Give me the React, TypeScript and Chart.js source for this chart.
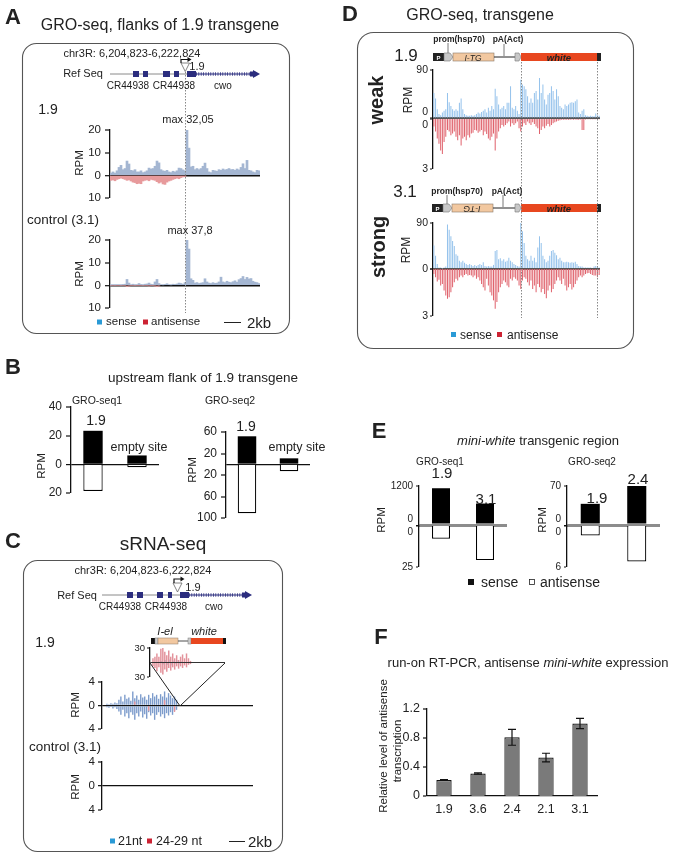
import React, { useEffect, useRef } from 'react';
import { Chart, registerables } from 'chart.js';
Chart.register(...registerables);

const FONT = '"Liberation Sans", Arial, Helvetica, sans-serif';
Chart.defaults.font.family = FONT;
Chart.defaults.color = '#222';

// ---------------- DATA ----------------
// A: GRO-seq flanks (bins across the locus), RPM
const aSense19 = [1, 1.5, 1, 2, 3.5, 4.4, 2.5, 3, 6.3, 5, 2.2, 2, 2.5, 1.5, 1.5, 2, 1.2, 1.5, 2, 3.2, 2.8, 3, 4, 6.3, 5.5, 2.5, 2, 1.8, 2.2, 1.5, 1.2, 1.8, 1.5, 2, 3.2, 3, 2.4, 2, 32.05, 12, 3.7, 4, 2.5, 3, 2.5, 3, 4, 5.4, 3, 1.5, 1.2, 2.2, 2, 1.8, 2.5, 2.2, 2.8, 2.4, 2.6, 3, 2.5, 2.6, 2.2, 2.8, 2.4, 3.5, 5.1, 3, 6.6, 2.2, 2, 1.5, 1.2, 2.2, 2];
const aAnti19 = [-2.2, -2, -2.4, -1.8, -1.5, -1.2, -1.5, -1.8, -2.2, -2, -2.5, -3, -3.2, -3.7, -3.5, -3.7, -2.5, -2.2, -2, -2.4, -1.8, -2, -2.2, -2.8, -3.4, -3, -3.8, -4, -3, -2.5, -2.2, -1.8, -1.5, -1.2, -1.5, -1, -0.7, -0.5];
const aSenseCtrl = [0.2, 0.3, 0.2, 0.3, 0.3, 0.2, 0.4, 0.5, 2.6, 1, 0.3, 0.5, 0.2, 0.3, 0.8, 0.4, 0.2, 0.5, 0.6, 1, 0.5, 0.4, 1.5, 2.6, 0.8, 0.3, 0.2, 0.4, 0.7, 0.3, 0.2, 0.5, 0.4, 0.6, 1, 0.8, 0.5, 1.2, 37.8, 16, 2.9, 2.2, 1, 1.2, 0.8, 1, 1.2, 2.9, 1.5, 1, 0.8, 1.2, 0.9, 1, 1.5, 3.6, 1.5, 1.2, 1.8, 1.4, 1.2, 1.6, 2, 1.4, 2.5, 3, 3.9, 2.6, 3.5, 2.8, 3, 1.8, 1.4, 1.2, 0.8];
const aAntiCtrl = [0, 0, 0, 0, 0, 0, 0, 0, -0.5, -0.2, 0, 0, 0, 0, 0, 0, 0, 0, 0, -0.2, 0, 0, -0.2, -0.5, -0.2];

// B: upstream flank of 1.9 transgene
const bCats = ['1.9', 'empty site'];
const bSeq1Sense = [23.4, 6.2];
const bSeq1Anti = [-18.6, -2];
const bSeq2Sense = [52, 11];
const bSeq2Anti = [-91, -13];

// C: sRNA-seq (bins of the locus; main track 76 bins, inset 38 bins)
const cMainBins = 76;
const cMainStart = 2;
const cMain21Up = [0.3, 0.2, 0.4, 0.3, 0.5, 0.4, 0.97, 1.53, 0.68, 1.82, 1.14, 1.36, 0.8, 2.39, 1.25, 1.7, 0.97, 1.93, 1.36, 1.53, 0.97, 1.82, 1.25, 2.1, 1.53, 1.82, 1.14, 1.93, 1.53, 2.39, 1.36, 2.1, 1.7, 1.25, 1.53, 0.97];
const cMain21Down = [-0.3, -0.4, -0.2, -0.5, -0.3, -0.6, -1.02, -1.59, -0.74, -1.88, -1.31, -2.16, -1.14, -1.59, -2.44, -1.31, -1.88, -1.02, -2.05, -1.48, -2.27, -1.14, -1.7, -1.31, -2.44, -1.59, -1.14, -1.88, -1.48, -2.16, -1.31, -1.7, -1.14, -1.59, -0.91, -0.74];
const cMain2429Bins = [16, 23, 31, 36];
const cMain2429Vals = [0.7, -0.9, 0.9, -1.1];
const cInsetBins = 38;
const cInsetStart = 1;
const cInset2429Up = [8.7, 12, 18.7, 12, 28.7, 32, 22, 15, 25, 12, 18.7, 8.7, 15, 5.3, 12, 16.7, 8.7, 18.7, 8.7, 3.3];
const cInset2429Down = [-8, -11.3, -18, -10, -21.3, -24.7, -14.7, -19.3, -11.3, -16.7, -10, -14.7, -8, -12.7, -8, -11.3, -6, -10, -4.7, -3.3];
const cInsetBlueStart = 5;
const cInset21Up = [3, 0, 5, 0, 6, 0, 4, 0, 5, 0, 3];
const cInset21Down = [0, -4, 0, -5, 0, -6, 0, -3, 0, -4, 0];
const cControl21: number[] = [];

// D: GRO-seq transgene
const dWeakSense = [47, 37, 17, 8, 6, 11, 14, 17, 47, 30, 23, 17, 14, 17, 14, 29, 37, 17, 8, 6, 5, 5, 6, 5, 6, 8, 11, 9, 12, 14, 17, 11, 20, 14, 23, 17, 55, 41, 26, 17, 20, 23, 17, 29, 29, 60, 20, 17, 23, 14, 8, 72, 63, 60, 54, 41, 29, 37, 29, 47, 51, 35, 75, 47, 63, 35, 26, 44, 47, 60, 51, 35, 54, 41, 23, 20, 17, 26, 23, 26, 29, 30, 29, 32, 35, 11, 8, 14, 17, 6, 5, 4, 5, 4, 4, 9, 6, 5];
const dWeakAnti = [0.45, 0.75, 1.16, 1.47, 1.88, 2.08, 1.37, 1.06, 0.65, 0.75, 0.96, 0.86, 0.75, 1.06, 1.27, 0.96, 1.57, 1.16, 1.06, 1.27, 0.96, 1.1, 0.86, 0.82, 0.65, 0.69, 0.82, 0.75, 0.65, 0.96, 0.75, 0.9, 1.16, 1.27, 1.06, 0.86, 1.88, 1.16, 0.75, 0.55, 0.35, 0.45, 0.35, 0.25, 0.15, 0.45, 0.25, 0.35, 0.25, 0.15, 0.55, 0.75, 0.45, 0.25, 0.35, 0.15, 0.25, 0.35, 0.2, 0.3, 0.45, 0.55, 0.9, 0.65, 0.45, 0.55, 0.4, 0.3, 0.45, 0.35, 0.25, 0.2, 0.15, 0.1, 0.08, 0.05, 0.05, 0.04, 0.05, 0.04, 0.04, 0.03, 0.04, 0.03, 0.05, 0.04, 0.03, 0.65, 0.65, 0.03, 0.02, 0.02, 0.02, 0.02, 0.02, 0.02, 0.02, 0.02];
const dStrongSense = [46, 26, 10, 3, 3, 1, 3, 5, 87, 77, 64, 55, 45, 29, 26, 16, 13, 16, 12, 10, 8, 10, 8, 6, 8, 6, 8, 10, 8, 13, 6, 5, 6, 5, 5, 8, 35, 37, 19, 21, 16, 19, 14, 16, 22, 16, 13, 10, 8, 6, 5, 96, 74, 51, 26, 19, 16, 26, 16, 22, 13, 42, 64, 51, 26, 19, 13, 16, 26, 35, 37, 32, 27, 19, 22, 16, 13, 13, 14, 13, 12, 13, 12, 14, 10, 6, 5, 5, 3, 3, 3, 3, 3, 2, 5, 6, 5, 3];
const dStrongAnti = [0.32, 0.53, 0.8, 0.68, 1.06, 0.95, 1.37, 1.69, 1.9, 1.8, 1.48, 1.16, 0.85, 0.63, 0.74, 0.53, 0.42, 0.53, 0.38, 0.32, 0.42, 0.38, 0.42, 0.53, 0.42, 0.63, 0.53, 0.74, 0.95, 1.16, 1.37, 0.63, 1.06, 1.48, 1.69, 2.0, 2.54, 2.11, 1.48, 1.16, 0.95, 0.74, 0.85, 1.06, 1.16, 0.63, 0.74, 0.53, 0.63, 0.74, 1.06, 1.27, 0.74, 0.53, 0.63, 0.85, 1.06, 0.74, 1.27, 1.06, 1.48, 0.95, 1.16, 1.48, 1.27, 1.59, 1.86, 1.37, 1.06, 1.48, 1.27, 0.95, 0.74, 0.53, 0.74, 0.95, 0.63, 1.06, 1.37, 1.16, 0.95, 1.31, 1.16, 0.95, 0.74, 0.53, 0.42, 0.53, 0.42, 0.32, 0.27, 0.25, 0.32, 0.38, 0.42, 0.42, 0.53, 0.38];

// E: mini-white transgenic region
const eSeq1Cats = ['1.9', '3.1'];
const eSeq1Sense = [1131, 660];
const eSeq1Anti = [7.7, 20.8];
const eSeq2Cats = ['1.9', '2.4'];
const eSeq2Sense = [38, 70];
const eSeq2Anti = [1.4, 5.2];

// F: run-on RT-PCR
const fLabels = ['1.9', '3.6', '2.4', '2.1', '3.1'];
const fValues = [0.22, 0.31, 0.81, 0.53, 1.0];
const fErrors = [0.005, 0.01, 0.11, 0.06, 0.07];

// ---------------- COLORS ----------------
const A_BLUE = '#a4b6d2';
const A_RED = '#e79a9c';
const C_BLUE = '#7d9ccc';
const C_RED = '#e3929b';
const D_BLUE = '#96c3ec';
const D_RED = '#e0636d';
const NAVY = '#2b2d7e';

// ---------------- HELPERS ----------------
type Area = [number, number, number, number];
interface YSpec {
  min: number; max: number; ticks: number[]; reverse?: boolean;
  label?: (v: number) => string | string[];
  zero?: [string, number]; noTick?: number[]; size?: number; tl?: number; pad?: number;
}

function yScale(s: YSpec, yw: number): any {
  return {
    type: 'linear',
    min: s.min, max: s.max, reverse: !!s.reverse,
    afterFit: (sc: any) => { sc.width = yw; },
    afterBuildTicks: (sc: any) => { sc.ticks = s.ticks.map((v) => ({ value: v })); },
    ticks: {
      autoSkip: false, padding: s.pad ?? 3, color: '#222',
      font: { size: s.size ?? 11 },
      callback: (v: number) => (s.label ? s.label(v) : String(Math.abs(v))),
    },
    grid: {
      display: true, drawOnChartArea: true, drawTicks: true, tickLength: s.tl ?? 4,
      color: (c: any) => (s.zero && c.tick && c.tick.value === 0 ? s.zero[0] : 'rgba(0,0,0,0)'),
      lineWidth: (c: any) => (s.zero && c.tick && c.tick.value === 0 ? s.zero[1] : 0),
      tickColor: (c: any) => (c.tick && s.noTick && s.noTick.includes(c.tick.value) ? 'rgba(0,0,0,0)' : '#111'),
      tickWidth: 1.2,
    },
    border: { display: true, color: '#111', width: 1.3 },
  };
}

const hiddenCat: any = { type: 'category', display: false, offset: true };

const bars = (data: any[], color: string, pct = 1, extra: any = {}) => ({
  data, backgroundColor: color, borderWidth: 0, barPercentage: pct, categoryPercentage: 1, grouped: false, ...extra,
});
// place a run of values on a bin axis (empty bins stay null)
const placeRun = (n: number, start: number, vals: number[]) =>
  Array.from({ length: n }, (_, i) => (i >= start && i < start + vals.length ? vals[i - start] : null));
const placeAt = (n: number, bins: number[], vals: number[]) =>
  Array.from({ length: n }, (_, i) => { const k = bins.indexOf(i); return k >= 0 ? vals[k] : null; });
const binLabels = (n: number) => Array.from({ length: n }, (_, i) => String(i));

const errorBarPlugin = {
  id: 'errorBars',
  afterDatasetsDraw(chart: any, _args: any, opts: any) {
    const errs: number[] = opts && opts.errors;
    if (!errs) return;
    const meta = chart.getDatasetMeta(0);
    const ys = chart.scales.y;
    const vals = chart.data.datasets[0].data as number[];
    const ctx = chart.ctx;
    ctx.save();
    ctx.strokeStyle = '#111';
    ctx.lineWidth = 1.2;
    meta.data.forEach((bar: any, i: number) => {
      const top = ys.getPixelForValue(vals[i] + errs[i]);
      const bot = ys.getPixelForValue(vals[i] - errs[i]);
      const x = bar.x, cap = 4;
      ctx.beginPath();
      ctx.moveTo(x, top); ctx.lineTo(x, bot);
      ctx.moveTo(x - cap, top); ctx.lineTo(x + cap, top);
      ctx.moveTo(x - cap, bot); ctx.lineTo(x + cap, bot);
      ctx.stroke();
    });
    ctx.restore();
  },
};

const PAD = 14;
function ChartBox({ area, yw, xh = 0, build }: { area: Area; yw: number; xh?: number; build: () => any }) {
  const ref = useRef<HTMLCanvasElement>(null);
  const padT = PAD, padB = xh ? 2 : PAD, padR = 2;
  const w = area[1] - area[0] + yw + padR;
  const h = area[3] - area[2] + padT + padB + xh;
  useEffect(() => {
    const cfg = build();
    cfg.options = {
      ...(cfg.options || {}),
      animation: false, responsive: false, events: [],
      layout: { padding: { left: 0, right: padR, top: padT, bottom: padB } },
    };
    cfg.options.plugins = { legend: { display: false }, tooltip: { enabled: false }, ...(cfg.options.plugins || {}) };
    const c = new Chart(ref.current as HTMLCanvasElement, cfg);
    return () => c.destroy();
  }, []);
  return (
    <canvas ref={ref} width={w} height={h}
      style={{ position: 'absolute', left: area[0] - yw, top: area[2] - padT, width: w, height: h }} />
  );
}

function Tx({ x, y, s = 11, b = false, i = false, rot = 0, a = 'c', c = '#222', children }: any) {
  const tx = a === 'c' ? '-50%' : a === 'r' ? '-100%' : '0';
  return (
    <div style={{
      position: 'absolute', left: x, top: y,
      transform: `translate(${tx},-50%)${rot ? ` rotate(${rot}deg)` : ''}`,
      fontSize: s, fontWeight: b ? 700 : 400, fontStyle: i ? 'italic' : 'normal',
      color: c, whiteSpace: 'nowrap', lineHeight: 1,
    }}>{children}</div>
  );
}

function Gene({ y, x0, exons, dot, arrow }: { y: number; x0: number; exons: number[][]; dot: number[]; arrow: number }) {
  return (
    <g>
      <line x1={x0} y1={y} x2={dot[0]} y2={y} stroke="#8a8a8a" strokeWidth={1} />
      {exons.map(([a, b], k) => <rect key={k} x={a} y={y - 3} width={b - a} height={6} fill={NAVY} />)}
      <line x1={dot[0]} y1={y} x2={dot[1]} y2={y} stroke={NAVY} strokeWidth={1} />
      <line x1={dot[0]} y1={y} x2={dot[1]} y2={y} stroke={NAVY} strokeWidth={3.5} strokeDasharray="0.8 1.6" />
      <rect x={arrow - 3} y={y - 2.5} width={4} height={5} fill={NAVY} />
      <polygon points={`${arrow},${y - 4} ${arrow + 7},${y} ${arrow},${y + 4}`} fill={NAVY} />
    </g>
  );
}

function Construct({ y, x0 }: { y: number; x0: number }) {
  const h = 8;
  return (
    <g>
      <rect x={x0} y={y} width={11} height={h} fill="#222" />
      <polygon points={`${x0 + 11},${y} ${x0 + 17},${y} ${x0 + 20},${y + 4} ${x0 + 17},${y + h} ${x0 + 11},${y + h}`} fill="#c8c8c8" stroke="#777" strokeWidth={0.6} />
      <rect x={x0 + 20} y={y} width={41} height={h} fill="#f2c8a0" stroke="#8a7a6a" strokeWidth={0.6} />
      <line x1={x0 + 61} y1={y + 4} x2={515} y2={y + 4} stroke="#222" strokeWidth={1} />
      <polygon points={`515,${y} 519,${y} 521,${y + 4} 519,${y + h} 515,${y + h}`} fill="#c8c8c8" stroke="#777" strokeWidth={0.6} />
      <rect x={521} y={y} width={76} height={h} fill="#e8471f" />
      <rect x={597} y={y} width={4} height={h} fill="#222" />
    </g>
  );
}

// ---------------- CHART BUILDERS ----------------
const trackA = (sense: number[], anti: number[]) => () => ({
  type: 'bar',
  data: { labels: sense.map((_, i) => i), datasets: [bars(sense, A_BLUE), bars(anti, A_RED)] },
  options: {
    scales: {
      x: hiddenCat,
      y: yScale({ min: -10, max: 20, ticks: [-10, 0, 10, 20], zero: ['#111', 1.4], size: 11.5, tl: 5, pad: 4 }, 32),
    },
  },
});

const trackD = (data: number[], color: string, max: number, reverse: boolean, zeroLabel: string | string[], zero?: [string, number]) => () => ({
  type: 'bar',
  data: { labels: data.map((_, i) => i), datasets: [bars(data, color, 0.6)] },
  options: {
    scales: {
      x: hiddenCat,
      y: yScale({
        min: 0, max, ticks: [0, max], reverse, zero, size: 10.5, tl: 3, pad: 2,
        label: (v) => (v === 0 ? zeroLabel : String(v)),
      }, 28),
    },
  },
});

const groB = (sense: number[], anti: number[], spec: YSpec) => () => ({
  type: 'bar',
  data: {
    labels: bCats,
    datasets: [bars(sense, '#000', 0.44), bars(anti, '#fff', 0.44, { borderColor: '#000', borderWidth: 1.2 })],
  },
  options: { scales: { x: hiddenCat, y: yScale(spec, 34) } },
});

const groE = (cats: string[], data: number[], max: number, anti: boolean) => () => ({
  type: 'bar',
  data: {
    labels: cats,
    datasets: [anti
      ? bars(data, '#fff', 0.41, { borderColor: '#000', borderWidth: 1.2 })
      : bars(data, '#000', 0.41)],
  },
  options: {
    scales: {
      x: hiddenCat,
      y: yScale({
        min: 0, max, ticks: [0, max], reverse: anti, size: 10, tl: 3, pad: 3,
        zero: anti ? undefined : ['#8c8c8c', 3],
        label: (v) => (v === 0 ? (anti ? ['', '0'] : ['0', '']) : String(v)),
      }, 34),
    },
  },
});

const cMainChart = () => ({
  type: 'bar',
  data: {
    labels: binLabels(cMainBins),
    datasets: [
      bars(placeAt(cMainBins, cMain2429Bins, cMain2429Vals), C_RED, 0.7),
      bars(placeRun(cMainBins, cMainStart, cMain21Up), C_BLUE, 0.7),
      bars(placeRun(cMainBins, cMainStart, cMain21Down), C_BLUE, 0.7),
    ],
  },
  options: {
    scales: {
      x: hiddenCat,
      y: yScale({ min: -4, max: 4, ticks: [-4, 0, 4], zero: ['#111', 1.3], size: 11.5, tl: 4, pad: 3 }, 30),
    },
  },
});

const cInsetChart = () => ({
  type: 'bar',
  data: {
    labels: binLabels(cInsetBins),
    datasets: [
      bars(placeRun(cInsetBins, cInsetStart, cInset2429Up), C_RED, 0.75),
      bars(placeRun(cInsetBins, cInsetStart, cInset2429Down), C_RED, 0.75),
      bars(placeRun(cInsetBins, cInsetBlueStart, cInset21Up), C_BLUE, 0.75),
      bars(placeRun(cInsetBins, cInsetBlueStart, cInset21Down), C_BLUE, 0.75),
    ],
  },
  options: {
    scales: {
      x: hiddenCat,
      y: yScale({
        min: -30, max: 30, ticks: [-30, 0, 30], zero: ['#333', 1], noTick: [0], size: 9.5, tl: 3, pad: 2,
        label: (v) => (v === 0 ? '' : String(Math.abs(v))),
      }, 24),
    },
  },
});

const cControlChart = () => ({
  type: 'bar',
  data: { labels: binLabels(cMainBins), datasets: [bars(cControl21, C_BLUE, 0.7)] },
  options: {
    scales: {
      x: hiddenCat,
      y: yScale({ min: -4, max: 4, ticks: [-4, 0, 4], zero: ['#111', 1.3], size: 11.5, tl: 4, pad: 3 }, 30),
    },
  },
});

const fChart = () => ({
  type: 'bar',
  data: {
    labels: fLabels,
    datasets: [{
      data: fValues, backgroundColor: '#7a7a7a', borderColor: '#111', borderWidth: 1.2,
      barPercentage: 0.45, categoryPercentage: 1,
    }],
  },
  options: {
    scales: {
      x: {
        type: 'category', offset: true,
        afterFit: (s: any) => { s.height = 22; },
        grid: { display: false, drawTicks: false },
        border: { display: true, color: '#111', width: 1.3 },
        ticks: { font: { size: 12.5 }, padding: 6, color: '#222' },
      },
      y: yScale({
        min: 0, max: 1.2, ticks: [0, 0.4, 0.8, 1.2], size: 12.5, tl: 4, pad: 3,
        label: (v) => (v === 0 ? '0' : v.toFixed(1)),
      }, 40),
    },
    plugins: { errorBars: { errors: fErrors } },
  },
  plugins: [errorBarPlugin],
});

// ---------------- APP ----------------
export default function App() {
  return (
    <div style={{ position: 'absolute', left: 0, top: 0, width: 681, height: 854, background: '#fff', fontFamily: FONT, overflow: 'hidden' }}>
      {/* charts */}
      <ChartBox area={[110, 260, 130, 198]} yw={32} build={trackA(aSense19, aAnti19)} />
      <ChartBox area={[110, 260, 240, 308]} yw={32} build={trackA(aSenseCtrl, aAntiCtrl)} />

      <ChartBox area={[71, 159, 407, 493]} yw={34} build={groB(bSeq1Sense, bSeq1Anti, { min: -20, max: 40, ticks: [-20, 0, 20, 40], zero: ['#111', 1.2], size: 12, tl: 5, pad: 4 })} />
      <ChartBox area={[226, 310, 432, 518]} yw={34} build={groB(bSeq2Sense, bSeq2Anti, { min: -100, max: 60, ticks: [-100, -60, -20, 0, 20, 60], zero: ['#111', 1.2], noTick: [0], size: 12, tl: 5, pad: 4, label: (v) => (v === 0 ? '' : String(Math.abs(v))) })} />

      <ChartBox area={[150, 225, 648, 677]} yw={24} build={cInsetChart} />
      <ChartBox area={[102, 253, 682, 729]} yw={30} build={cMainChart} />
      <ChartBox area={[102, 253, 762, 810]} yw={30} build={cControlChart} />

      <ChartBox area={[433, 600, 70, 119]} yw={28} build={trackD(dWeakSense, D_BLUE, 90, false, ['0', ''], ['#555', 2])} />
      <ChartBox area={[433, 600, 119, 170]} yw={28} build={trackD(dWeakAnti, D_RED, 3, true, ['', '0'])} />
      <ChartBox area={[433, 600, 223, 269]} yw={28} build={trackD(dStrongSense, D_BLUE, 90, false, '0', ['#555', 2])} />
      <ChartBox area={[433, 600, 269, 316]} yw={28} build={trackD(dStrongAnti, D_RED, 3, true, '')} />

      <ChartBox area={[419, 507, 486, 526]} yw={34} build={groE(eSeq1Cats, eSeq1Sense, 1200, false)} />
      <ChartBox area={[419, 507, 526, 568]} yw={34} build={groE(eSeq1Cats, eSeq1Anti, 25, true)} />
      <ChartBox area={[567, 660, 486, 526]} yw={34} build={groE(eSeq2Cats, eSeq2Sense, 70, false)} />
      <ChartBox area={[567, 660, 526, 568]} yw={34} build={groE(eSeq2Cats, eSeq2Anti, 6, true)} />

      <ChartBox area={[427, 597, 709, 796]} yw={40} xh={22} build={fChart} />

      {/* drawings */}
      <svg width={681} height={854} style={{ position: 'absolute', left: 0, top: 0 }}>
        {/* A */}
        <rect x={22.5} y={43.5} width={267} height={290} rx={14} fill="none" stroke="#555" strokeWidth={1.1} />
        <Gene y={74} x0={110} exons={[[133, 139], [143, 148], [163, 170], [174, 179], [187, 196]]} dot={[196, 252]} arrow={253} />
        <polygon points="181,63 189.5,63 185.25,71.5" fill="#fff" stroke="#666" strokeWidth={0.8} />
        <path d="M181 63 V59.5 H188" fill="none" stroke="#111" strokeWidth={1.2} />
        <polygon points="187.5,57 191.5,59.5 187.5,62" fill="#111" />
        <line x1={185.5} y1={72} x2={185.5} y2={313} stroke="#888" strokeWidth={1} strokeDasharray="1.5 1.5" />
        <rect x={97} y={319.5} width={5} height={5} fill="#2a9ad6" />
        <rect x={143} y={319.5} width={5} height={5} fill="#cc2233" />
        <line x1={224} y1={322.5} x2={241} y2={322.5} stroke="#222" strokeWidth={1} />

        {/* C */}
        <rect x={23.5} y={560.5} width={259} height={291} rx={14} fill="none" stroke="#555" strokeWidth={1.1} />
        <Gene y={595} x0={102} exons={[[127, 133], [137, 143], [157, 163], [168, 172], [180, 189]]} dot={[189, 244]} arrow={245} />
        <polygon points="173,583 182,583 177.5,592" fill="#fff" stroke="#666" strokeWidth={0.8} />
        <path d="M174 583 V579 H181" fill="none" stroke="#111" strokeWidth={1.2} />
        <polygon points="180.5,576.5 184.5,579 180.5,581.5" fill="#111" />
        <rect x={151} y={638} width={4} height={6} fill="#111" />
        <rect x={155} y={638} width={3} height={6} fill="#ccc" stroke="#777" strokeWidth={0.5} />
        <rect x={158} y={638} width={20} height={6} fill="#f2c8a0" stroke="#8a7a6a" strokeWidth={0.5} />
        <line x1={178} y1={641} x2={188} y2={641} stroke="#222" strokeWidth={0.8} />
        <rect x={188} y={638} width={3} height={6} fill="#ccc" stroke="#777" strokeWidth={0.5} />
        <rect x={191} y={638} width={32} height={6} fill="#e8471f" />
        <rect x={223} y={638} width={3} height={6} fill="#111" />
        <line x1={150} y1={663} x2={180} y2={706} stroke="#222" strokeWidth={1} />
        <line x1={225} y1={663} x2={180} y2={706} stroke="#222" strokeWidth={1} />
        <rect x={110} y={838.5} width={5} height={5} fill="#2a9ad6" />
        <rect x={147} y={838.5} width={5} height={5} fill="#cc2233" />
        <line x1={229} y1={841.5} x2={245} y2={841.5} stroke="#222" strokeWidth={1} />

        {/* D */}
        <rect x={357.5} y={32.5} width={276} height={316} rx={16} fill="none" stroke="#555" strokeWidth={1.1} />
        <Construct y={53} x0={433} />
        <Construct y={204} x0={432} />
        <line x1={448} y1={43} x2={448} y2={53} stroke="#555" strokeWidth={0.8} />
        <line x1={504} y1={44} x2={504} y2={56} stroke="#555" strokeWidth={0.8} />
        <line x1={447} y1={195} x2={447} y2={204} stroke="#555" strokeWidth={0.8} />
        <line x1={503} y1={195} x2={503} y2={207} stroke="#555" strokeWidth={0.8} />
        <line x1={521.5} y1={62} x2={521.5} y2={318} stroke="#888" strokeWidth={1} strokeDasharray="1.5 1.5" />
        <line x1={597.5} y1={62} x2={597.5} y2={318} stroke="#888" strokeWidth={1} strokeDasharray="1.5 1.5" />
        <rect x={451} y={332} width={5} height={5} fill="#2a9ad6" />
        <rect x={497} y={332} width={5} height={5} fill="#cc2233" />

        {/* E */}
        <rect x={468} y={579} width={6} height={6} fill="#111" />
        <rect x={529.5} y={579.5} width={5} height={5} fill="#fff" stroke="#222" strokeWidth={0.8} />
      </svg>

      {/* panel letters */}
      <Tx x={13} y={17} s={22} b>A</Tx>
      <Tx x={13} y={367} s={22} b>B</Tx>
      <Tx x={13} y={541} s={22} b>C</Tx>
      <Tx x={350} y={14} s={22} b>D</Tx>
      <Tx x={379} y={431} s={22} b>E</Tx>
      <Tx x={381} y={637} s={22} b>F</Tx>

      {/* A text */}
      <Tx x={160} y={25} s={16}>GRO-seq, flanks of 1.9 transgene</Tx>
      <Tx x={132} y={53} s={11}>chr3R: 6,204,823-6,222,824</Tx>
      <Tx x={83} y={73} s={11}>Ref Seq</Tx>
      <Tx x={197} y={66} s={11}>1.9</Tx>
      <Tx x={128} y={86} s={10}>CR44938</Tx>
      <Tx x={174} y={86} s={10}>CR44938</Tx>
      <Tx x={223} y={86} s={10}>cwo</Tx>
      <Tx x={48} y={109} s={14}>1.9</Tx>
      <Tx x={188} y={119} s={11}>max 32,05</Tx>
      <Tx x={80} y={163} s={11.5} rot={-90}>RPM</Tx>
      <Tx x={63} y={220} s={13.5}>control (3.1)</Tx>
      <Tx x={190} y={230} s={11}>max 37,8</Tx>
      <Tx x={80} y={274} s={11.5} rot={-90}>RPM</Tx>
      <Tx x={106} y={322} s={11.5} a="l">sense</Tx>
      <Tx x={151} y={322} s={11.5} a="l">antisense</Tx>
      <Tx x={247} y={322} s={15} a="l">2kb</Tx>

      {/* B text */}
      <Tx x={203} y={378} s={13.5}>upstream flank of 1.9 transgene</Tx>
      <Tx x={97} y={400} s={10.5}>GRO-seq1</Tx>
      <Tx x={230} y={400} s={10.5}>GRO-seq2</Tx>
      <Tx x={96} y={420} s={14}>1.9</Tx>
      <Tx x={139} y={447} s={12.5}>empty site</Tx>
      <Tx x={246} y={426} s={14}>1.9</Tx>
      <Tx x={297} y={447} s={12.5}>empty site</Tx>
      <Tx x={42} y={466} s={11.5} rot={-90}>RPM</Tx>
      <Tx x={193} y={470} s={11.5} rot={-90}>RPM</Tx>

      {/* C text */}
      <Tx x={163} y={543} s={19}>sRNA-seq</Tx>
      <Tx x={143} y={570} s={11}>chr3R: 6,204,823-6,222,824</Tx>
      <Tx x={77} y={595} s={11}>Ref Seq</Tx>
      <Tx x={193} y={587} s={11}>1.9</Tx>
      <Tx x={120} y={607} s={10}>CR44938</Tx>
      <Tx x={166} y={607} s={10}>CR44938</Tx>
      <Tx x={214} y={607} s={10}>cwo</Tx>
      <Tx x={45} y={642} s={14}>1.9</Tx>
      <Tx x={165} y={631} s={11} i>I-el</Tx>
      <Tx x={204} y={631} s={11} i>white</Tx>
      <Tx x={76} y={705} s={11.5} rot={-90}>RPM</Tx>
      <Tx x={65} y={747} s={13.5}>control (3.1)</Tx>
      <Tx x={76} y={787} s={11.5} rot={-90}>RPM</Tx>
      <Tx x={118} y={841} s={12.5} a="l">21nt</Tx>
      <Tx x={156} y={841} s={12.5} a="l">24-29 nt</Tx>
      <Tx x={248} y={841} s={15} a="l">2kb</Tx>

      {/* D text */}
      <Tx x={480} y={15} s={16}>GRO-seq, transgene</Tx>
      <Tx x={459} y={39} s={8.5} b>prom(hsp70)</Tx>
      <Tx x={508} y={39} s={8.5} b>pA(Act)</Tx>
      <Tx x={406} y={55} s={17}>1.9</Tx>
      <Tx x={438.5} y={57.5} s={6} c="#fff" b>P</Tx>
      <Tx x={473} y={57.5} s={8.5} i>I-TG</Tx>
      <Tx x={559} y={57.5} s={9.5} b i>white</Tx>
      <Tx x={376} y={100} s={20} b rot={-90}>weak</Tx>
      <Tx x={408} y={100} s={12} rot={-90}>RPM</Tx>
      <Tx x={405} y={191} s={17}>3.1</Tx>
      <Tx x={457} y={191} s={8.5} b>prom(hsp70)</Tx>
      <Tx x={507} y={191} s={8.5} b>pA(Act)</Tx>
      <Tx x={437.5} y={208.5} s={6} c="#fff" b>P</Tx>
      <Tx x={472} y={208.5} s={8.5} i rot={180}>I-TG</Tx>
      <Tx x={559} y={208.5} s={9.5} b i>white</Tx>
      <Tx x={378} y={247} s={20} b rot={-90}>strong</Tx>
      <Tx x={406} y={250} s={12} rot={-90}>RPM</Tx>
      <Tx x={460} y={335} s={12} a="l">sense</Tx>
      <Tx x={507} y={335} s={12} a="l">antisense</Tx>

      {/* E text */}
      <Tx x={538} y={440} s={13}><i>mini-white</i> transgenic region</Tx>
      <Tx x={440} y={462} s={10}>GRO-seq1</Tx>
      <Tx x={592} y={462} s={10}>GRO-seq2</Tx>
      <Tx x={442} y={472} s={15}>1.9</Tx>
      <Tx x={486} y={498} s={15}>3.1</Tx>
      <Tx x={597} y={497} s={15}>1.9</Tx>
      <Tx x={638} y={478} s={15}>2.4</Tx>
      <Tx x={382} y={520} s={11.5} rot={-90}>RPM</Tx>
      <Tx x={543} y={520} s={11.5} rot={-90}>RPM</Tx>
      <Tx x={481} y={582} s={14} a="l">sense</Tx>
      <Tx x={540} y={582} s={14} a="l">antisense</Tx>

      {/* F text */}
      <Tx x={528} y={662} s={13}>run-on RT-PCR, antisense <i>mini-white</i> expression</Tx>
      <Tx x={384} y={746} s={11.5} rot={-90}>Relative level of antisense</Tx>
      <Tx x={398} y={751} s={11.5} rot={-90}>transcription</Tx>
    </div>
  );
}
